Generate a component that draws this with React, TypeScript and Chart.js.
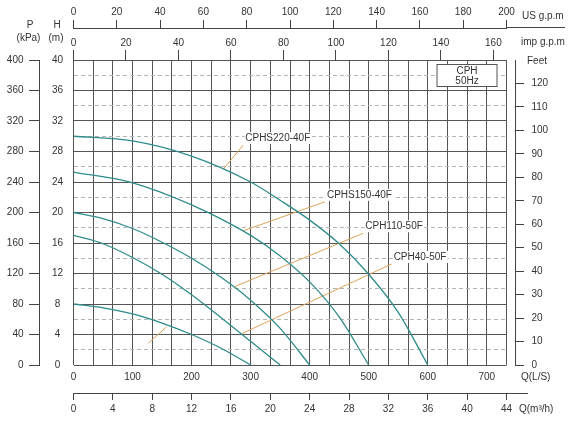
import React, { useEffect, useRef } from 'react';
import { Chart, registerables } from 'chart.js';
Chart.register(...registerables);

// ---- data (Q in L/min, H in m) ----
const curveCPHS220 = [[0, 30], [100, 29.4], [200, 27.4], [300, 24.0], [350, 21.6], [400, 19.0], [450, 15.9], [500, 11.9], [550, 6.9], [600, 0]];
const curveCPHS150 = [[0, 25.3], [100, 23.9], [200, 21.0], [300, 17.0], [350, 14.3], [400, 10.9], [450, 6.3], [500, 0]];
const curveCPH110 = [[0, 20.0], [50, 19.2], [100, 17.9], [150, 16.1], [200, 14.0], [250, 11.5], [300, 8.5], [350, 4.8], [400, 0]];
const curveCPH40 = [[0, 17.0], [50, 15.9], [100, 14.1], [150, 11.9], [200, 9.2], [250, 6.2], [300, 3.1], [350, 0]];
const curveSmall = [[0, 8.0], [50, 7.5], [100, 6.7], [150, 5.5], [200, 4.0], [250, 2.2], [300, 0]];
const curves = [curveCPHS220, curveCPHS150, curveCPH110, curveCPH40, curveSmall];

const modelNames = ['CPHS220-40F', 'CPHS150-40F', 'CPH110-50F', 'CPH40-50F', ''];
const leaderStart = [[253.6, 25.67], [287.5, 17.6], [273.5, 10.3], [284.8, 4.1], [126.6, 2.85]];
const leaderEnd = [[287.5, 28.85], [425.8, 21.4], [490.7, 17.27], [538.8, 13.25], [157.8, 5.02]];

// ---- ticks ----
const lpmTicks = [0, 100, 200, 300, 400, 500, 600, 700];
const m3hGrid = [0, 2, 4, 6, 8, 10, 12, 14, 16, 18, 20, 22, 24, 26, 28, 30, 32, 34, 36, 38, 40, 42, 44];
const m3hTicks = [0, 4, 8, 12, 16, 20, 24, 28, 32, 36, 40, 44];
const headGrid = [0, 2, 4, 6, 8, 10, 12, 14, 16, 18, 20, 22, 24, 26, 28, 30, 32, 34, 36, 38, 40];
const headTicks = [0, 4, 8, 12, 16, 20, 24, 28, 32, 36, 40];
const kPaTicks = [0, 40, 80, 120, 160, 200, 240, 280, 320, 360, 400];
const feetTicks = [0, 10, 20, 30, 40, 50, 60, 70, 80, 90, 100, 110, 120];
const impTicks = [0, 20, 40, 60, 80, 100, 120, 140, 160];
const usTicks = [0, 20, 40, 60, 80, 100, 120, 140, 160, 180, 200];

const FONT = 'Arial, "Liberation Sans", sans-serif';
const font = { family: FONT, size: 10 };
const TXT = '#333333';
const AX = '#444444';
const GRID_DARK = '#555555';
const GRID_LIGHT = '#b4b4b4';
const TEAL = '#2f8c8c';
const ORANGE = '#e0a158';

const setTicks = (arr: number[]) => (s: any) => { s.ticks = arr.map((v) => ({ value: v })); };

const decorPlugin = {
  id: 'decor',
  afterDraw(chart: any) {
    const ctx = chart.ctx;
    const ca = chart.chartArea;
    const sx = chart.scales.x, sy = chart.scales.y, sus = chart.scales.xus, sm = chart.scales.xm;
    ctx.save();
    // axis line extensions
    ctx.strokeStyle = AX;
    ctx.lineWidth = 1;
    ctx.beginPath();
    ctx.moveTo(ca.right, Math.round(sus.bottom) - 0.5);
    ctx.lineTo(565, Math.round(sus.bottom) - 0.5);
    ctx.moveTo(ca.right, Math.round(sm.top) + 0.5);
    ctx.lineTo(528, Math.round(sm.top) + 0.5);
    ctx.stroke();

    ctx.fillStyle = TXT;
    ctx.font = `10px ${FONT}`;
    ctx.textBaseline = 'middle';
    ctx.textAlign = 'center';
    ctx.fillText('P', 30, 25);
    ctx.fillText('(kPa)', 28.5, 38.5);
    ctx.fillText('H', 57, 25);
    ctx.fillText('(m)', 56, 38.5);

    ctx.textAlign = 'left';
    ctx.fillText('US g.p.m', 522, 16);
    ctx.fillText('imp g.p.m', 521, 42);
    ctx.fillText('Feet', 527, 61);
    ctx.fillText('Q(L/S)', 521, 377.5);
    ctx.fillText('Q(m³/h)', 519, 409.5);

    // model labels at leader ends
    modelNames.forEach((name, i) => {
      if (!name) return;
      const px = sx.getPixelForValue(leaderEnd[i][0]);
      const py = sy.getPixelForValue(leaderEnd[i][1]);
      const w = ctx.measureText(name).width;
      ctx.fillStyle = '#ffffff';
      ctx.fillRect(px + 1.5, py - 13, w + 2, 12);
      ctx.fillStyle = TXT;
      ctx.fillText(name, px + 2, py - 7);
    });

    // legend box
    const bx = ca.right - 69.5, by = ca.top + 4.5, bw = 60, bh = 22;
    ctx.fillStyle = '#ffffff';
    ctx.fillRect(bx, by, bw, bh);
    ctx.strokeStyle = '#555555';
    ctx.strokeRect(bx, by, bw, bh);
    ctx.fillStyle = TXT;
    ctx.textAlign = 'center';
    ctx.fillText('CPH', bx + bw / 2, by + 7);
    ctx.fillText('50Hz', bx + bw / 2, by + 16.5);
    ctx.restore();
  },
};

export default function App() {
  const ref = useRef<HTMLCanvasElement | null>(null);
  useEffect(() => {
    if (!ref.current) return;
    const datasets: any[] = [];
    curves.forEach((c, i) => {
      datasets.push({
        label: modelNames[i] || 'curve' + i,
        data: c.map(([q, h]) => ({ x: q, y: h })),
        borderColor: TEAL,
        borderWidth: 1.3,
        pointRadius: 0,
        fill: false,
        cubicInterpolationMode: 'monotone',
        xAxisID: 'x',
        yAxisID: 'y',
      });
    });
    leaderStart.forEach((s, i) => {
      datasets.push({
        label: 'leader' + i,
        data: [{ x: s[0], y: s[1] }, { x: leaderEnd[i][0], y: leaderEnd[i][1] }],
        borderColor: ORANGE,
        borderWidth: 1,
        pointRadius: 0,
        fill: false,
        xAxisID: 'x',
        yAxisID: 'y',
      });
    });

    const chart = new Chart(ref.current, {
      type: 'line',
      data: { datasets },
      plugins: [decorPlugin],
      options: {
        animation: false,
        responsive: false,
        layout: { padding: 0, autoPadding: false },
        plugins: { legend: { display: false }, tooltip: { enabled: false } },
        scales: {
          x: {
            type: 'linear', position: 'bottom', weight: 0, min: 0, max: 733.333,
            afterBuildTicks: setTicks(lpmTicks),
            grid: { display: false, drawOnChartArea: false, drawTicks: false },
            border: { display: false },
            ticks: { font, color: TXT, padding: 6, autoSkip: false, maxRotation: 0 },
            afterFit: (s: any) => { s.height = 28; },
          },
          xm: {
            type: 'linear', position: 'bottom', weight: 1, min: 0, max: 44,
            afterBuildTicks: setTicks(m3hGrid),
            grid: {
              color: GRID_DARK, lineWidth: 1, drawOnChartArea: true, drawTicks: true, tickLength: 7,
              tickColor: (c: any) => (c.tick && m3hTicks.includes(c.tick.value) ? AX : 'rgba(0,0,0,0)'),
            },
            border: { display: true, color: AX, width: 1 },
            ticks: {
              font, color: TXT, padding: 3.5, autoSkip: false, maxRotation: 0,
              callback: (v: any) => (m3hTicks.includes(v) ? String(v) : ''),
            },
            afterFit: (s: any) => { s.height = 31; },
          },
          ximp: {
            type: 'linear', position: 'top', weight: 0, min: 0, max: 165,
            afterBuildTicks: setTicks(impTicks),
            grid: { drawOnChartArea: false, drawTicks: true, tickLength: 10, tickColor: AX },
            border: { display: false },
            ticks: { font, color: TXT, padding: 1, autoSkip: false, maxRotation: 0 },
            afterFit: (s: any) => { s.height = 32; },
          },
          xus: {
            type: 'linear', position: 'top', weight: 1, min: 0, max: 200,
            afterBuildTicks: setTicks(usTicks),
            grid: { drawOnChartArea: false, drawTicks: true, tickLength: 8, tickColor: AX },
            border: { display: true, color: AX, width: 1 },
            ticks: { font, color: TXT, padding: 2, autoSkip: false, maxRotation: 0 },
            afterFit: (s: any) => { s.height = 28; },
          },
          y: {
            type: 'linear', position: 'left', weight: 0, min: 0, max: 40,
            afterBuildTicks: setTicks(headGrid),
            grid: {
              drawTicks: false, lineWidth: 1,
              color: (c: any) => (c.tick && headTicks.includes(c.tick.value) ? GRID_DARK : GRID_LIGHT),
            },
            border: {
              display: false,
              dash: (c: any) => (c.tick && !headTicks.includes(c.tick.value) ? [4, 3] : []),
            },
            ticks: {
              font, color: TXT, padding: 10.5, crossAlign: 'center', autoSkip: false,
              callback: (v: any) => (headTicks.includes(v) ? String(v) : ''),
            },
            afterFit: (s: any) => { s.width = 34.5; },
          },
          yP: {
            type: 'linear', position: 'left', weight: 1, min: 0, max: 400,
            afterBuildTicks: setTicks(kPaTicks),
            grid: { drawOnChartArea: false, drawTicks: true, tickLength: 10, tickColor: AX },
            border: { display: true, color: AX, width: 1 },
            ticks: { font, color: TXT, padding: 5.5, autoSkip: false },
            afterFit: (s: any) => { s.width = 39; },
          },
          gap: {
            type: 'linear', position: 'right', weight: 0, min: 0, max: 1, display: true,
            afterBuildTicks: (s: any) => { s.ticks = []; },
            grid: { display: false, drawOnChartArea: false, drawTicks: false },
            border: { display: false },
            ticks: { display: false },
            afterFit: (s: any) => { s.width = 8.5; },
          },
          yF: {
            type: 'linear', position: 'right', weight: 1, min: 0, max: 130,
            afterBuildTicks: setTicks(feetTicks),
            grid: { drawOnChartArea: false, drawTicks: true, tickLength: 9, tickColor: AX },
            border: { display: true, color: AX, width: 1 },
            ticks: { font, color: TXT, padding: 7.5, autoSkip: false },
            afterFit: (s: any) => { s.width = 55; },
          },
        },
      } as any,
    });
    return () => chart.destroy();
  }, []);

  return (
    <div style={{ position: 'absolute', left: 0, top: 0, width: 570, height: 424, background: '#fff' }}>
      <canvas ref={ref} width={570} height={424} style={{ width: 570, height: 424, display: 'block' }} />
    </div>
  );
}
